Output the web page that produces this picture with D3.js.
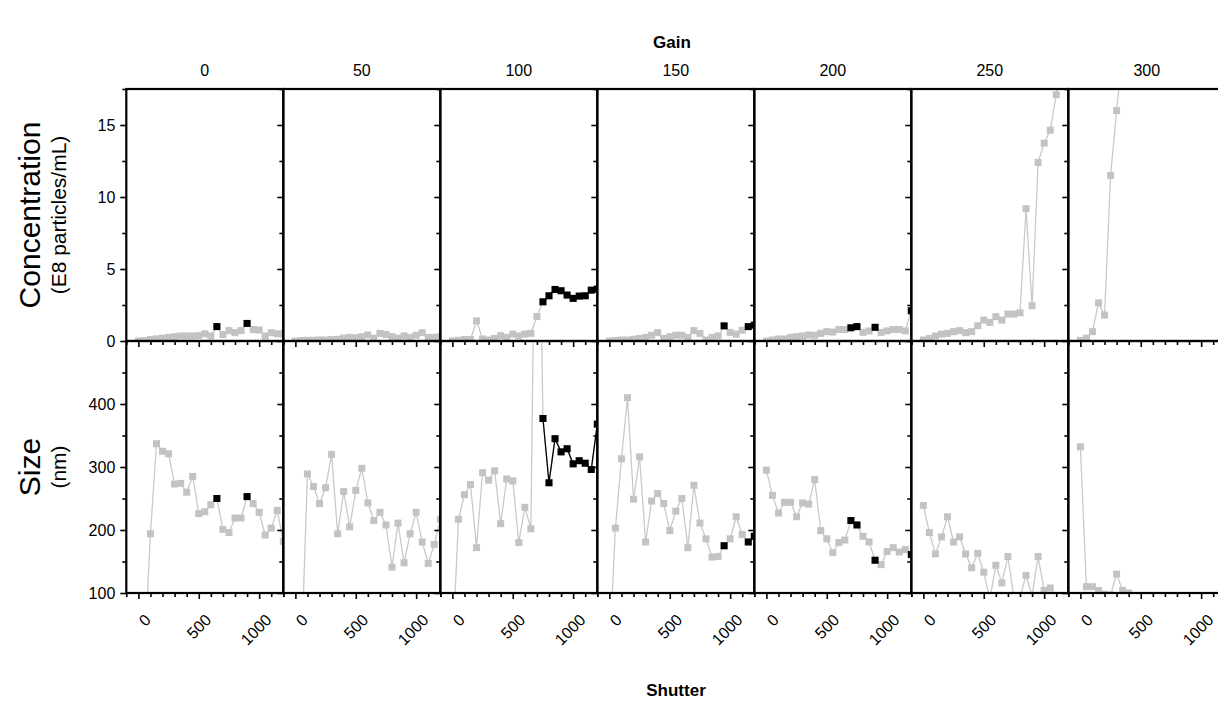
<!DOCTYPE html>
<html>
<head>
<meta charset="utf-8">
<script src="https://cdn.jsdelivr.net/npm/d3@7"></script>
<style>
  html, body { margin: 0; padding: 0; background: #ffffff; }
  svg { display: block; font-family: Arial, "Liberation Sans", sans-serif; }
</style>
</head>
<body>
<svg id="chart" width="1218" height="707"></svg>
<script>
// Shutter settings measured at every gain
const shutter = [0, 50, 100, 150, 200, 250, 300, 350, 400, 450, 500, 550, 600,
                 650, 700, 750, 800, 850, 900, 950, 1000, 1050, 1100, 1150, 1200];

const gains = [0, 50, 100, 150, 200, 250, 300];

// Concentration (E8 particles/mL), one array per gain
const conc0   = [0, 0.02, 0.1, 0.15, 0.2, 0.25, 0.3, 0.35, 0.35, 0.35, 0.38, 0.5, 0.35, 1.0, 0.45, 0.72, 0.58, 0.72, 1.22, 0.8, 0.76, 0.35, 0.58, 0.5, 0.5];
const conc50  = [0, 0.03, 0.05, 0.05, 0.07, 0.07, 0.1, 0.12, 0.2, 0.25, 0.23, 0.3, 0.42, 0.2, 0.53, 0.45, 0.3, 0.2, 0.35, 0.25, 0.4, 0.58, 0.25, 0.25, 0.3];
const conc100 = [0, 0.05, 0.1, 0.1, 1.4, 0.14, 0.07, 0.18, 0.37, 0.25, 0.48, 0.35, 0.48, 0.53, 1.7, 2.72, 3.14, 3.58, 3.49, 3.19, 2.96, 3.12, 3.14, 3.53, 3.6];
const conc150 = [0, 0.03, 0.07, 0.07, 0.12, 0.18, 0.25, 0.4, 0.58, 0.18, 0.3, 0.4, 0.4, 0.25, 0.72, 0.53, 0.07, 0.25, 0.35, 1.05, 0.6, 0.48, 0.75, 1.0, 1.1];
const conc200 = [0, 0.07, 0.14, 0.14, 0.25, 0.3, 0.35, 0.42, 0.4, 0.53, 0.65, 0.62, 0.8, 0.8, 0.92, 1.0, 0.6, 0.7, 0.95, 0.6, 0.7, 0.8, 0.8, 0.7, 2.1];
const conc250 = [0.07, 0.18, 0.35, 0.48, 0.53, 0.65, 0.72, 0.58, 0.65, 1.06, 1.45, 1.29, 1.69, 1.45, 1.87, 1.87, 1.96, 9.19, 2.45, 12.4, 13.74, 14.64, 17.1, 21, null];
const conc300 = [0.05, 0.2, 0.65, 2.65, 1.8, 11.5, 16.0, 20, null, null, null, null, null, null, null, null, null, null, null, null, null, null, null, null, null];

// Mean particle size (nm), one array per gain
const size0   = [0, 0, 194, 337, 325, 321, 273, 274, 260, 285, 226, 229, 240, 250, 201, 196, 219, 219, 253, 242, 228, 192, 203, 231, 182];
const size50  = [0, 0, 289, 269, 242, 267, 320, 194, 261, 205, 263, 298, 243, 215, 228, 208, 141, 211, 148, 194, 228, 181, 147, 177, 217];
const size100 = [0, 217, 256, 272, 172, 291, 279, 294, 210, 281, 278, 180, 236, 202, 1000, 377, 275, 345, 324, 329, 305, 310, 306, 296, 368];
const size150 = [0, 203, 313, 410, 249, 316, 181, 246, 258, 242, 199, 230, 250, 172, 271, 211, 186, 157, 158, 175, 186, 221, 193, 181, 190];
const size200 = [295, 255, 227, 244, 244, 221, 243, 241, 280, 199, 186, 164, 180, 184, 215, 208, 190, 181, 152, 145, 166, 172, 165, 169, 161];
const size250 = [239, 196, 162, 189, 221, 181, 189, 162, 140, 163, 133, 90, 144, 116, 158, 92, 93, 128, 96, 158, 104, 108, 95, 92, 90];
const size300 = [332, 110, 110, 104, 98, 97, 130, 104, 100, null, null, null, null, null, null, null, null, null, null, null, null, null, null, null, null];

// Shutter settings that fall inside the accepted range (drawn in black)
const accepted0   = [650, 900];
const accepted50  = [];
const accepted100 = [750, 800, 850, 900, 950, 1000, 1050, 1100, 1150, 1200];
const accepted150 = [950, 1150, 1200];
const accepted200 = [700, 750, 900, 1200];
const accepted250 = [];
const accepted300 = [];

// Axis ticks
const concTicksMajor = [0, 5, 10, 15];
const concTicksMinor = [2.5, 7.5, 12.5, 17.5];
const sizeTicksMajor = [100, 200, 300, 400];
const sizeTicksMinor = [150, 250, 350, 450];
const shutterTicksMajor = [0, 500, 1000];
const shutterTicksMinor = [-100, 100, 200, 300, 400, 600, 700, 800, 900, 1100, 1200];

const concSeries = [conc0, conc50, conc100, conc150, conc200, conc250, conc300];
const sizeSeries = [size0, size50, size100, size150, size200, size250, size300];
const acceptedSeries = [accepted0, accepted50, accepted100, accepted150, accepted200, accepted250, accepted300];

// ---- layout ----
const svg = d3.select("#chart");
const left0 = 126.3, panelW = 157;
const rowTop = 89, rowH = 252;
const GRAY = "#c3c3c3", GRAY_LINE = "#c9c9c9";
const MS = 7; // marker size

const yConc = d3.scaleLinear().domain([0, 17.5]).range([rowTop + rowH, rowTop]);
const ySize = d3.scaleLinear().domain([100, 500]).range([rowTop + 2 * rowH, rowTop + rowH]);

const rows = [
  { key: "conc", y: yConc, top: rowTop, series: concSeries, major: concTicksMajor, minor: concTicksMinor },
  { key: "size", y: ySize, top: rowTop + rowH, series: sizeSeries, major: sizeTicksMajor, minor: sizeTicksMinor }
];

const defs = svg.append("defs");

gains.forEach((gain, i) => {
  const x0 = left0 + i * panelW;
  const x = d3.scaleLinear().domain([-100, 1200]).range([x0, x0 + panelW]);
  const accepted = new Set(acceptedSeries[i]);

  rows.forEach((row, r) => {
    const clipId = `clip-${i}-${r}`;
    defs.append("clipPath").attr("id", clipId)
      .append("rect").attr("x", x0).attr("y", row.top).attr("width", panelW).attr("height", rowH);

    const pts = shutter.map((s, k) => ({ s, v: row.series[i][k], ok: accepted.has(s) }))
      .filter(d => d.v !== null);

    const g = svg.append("g").attr("clip-path", `url(#${clipId})`);

    const line = d3.line().x(d => x(d.s)).y(d => row.y(d.v));
    g.append("path").datum(pts)
      .attr("fill", "none").attr("stroke", GRAY_LINE).attr("stroke-width", 1.3)
      .attr("d", line);

    g.selectAll("rect.gray").data(pts).join("rect").attr("class", "gray")
      .attr("x", d => x(d.s) - MS / 2).attr("y", d => row.y(d.v) - MS / 2)
      .attr("width", MS).attr("height", MS).attr("fill", GRAY);

    const blackLine = d3.line().defined(d => d.ok).x(d => x(d.s)).y(d => row.y(d.v));
    g.append("path").datum(pts)
      .attr("fill", "none").attr("stroke", "#000").attr("stroke-width", 1.3)
      .attr("d", blackLine);

    g.selectAll("rect.black").data(pts.filter(d => d.ok)).join("rect").attr("class", "black")
      .attr("x", d => x(d.s) - MS / 2).attr("y", d => row.y(d.v) - MS / 2)
      .attr("width", MS).attr("height", MS).attr("fill", "#000");

    // left axis (ticks outward)
    const yMajor = d3.axisLeft(row.y).tickValues(row.major).tickSize(6).tickPadding(5)
      .tickFormat(i === 0 ? d3.format("d") : () => "");
    const yMinor = d3.axisLeft(row.y).tickValues(row.minor).tickSize(4).tickFormat(() => "");
    [yMajor, yMinor].forEach(ax => {
      const a = svg.append("g").attr("transform", `translate(${x0},0)`).call(ax);
      a.select(".domain").remove();
      a.selectAll("line").attr("stroke", "#000").attr("stroke-width", 1.6);
      a.selectAll("text").attr("font-size", 16).attr("fill", "#000");
    });

    // bottom axis (ticks outward)
    const yb = row.top + rowH;
    const xMajor = d3.axisBottom(x).tickValues(shutterTicksMajor).tickSize(6).tickFormat(r === 1 ? d3.format("d") : () => "");
    const xMinor = d3.axisBottom(x).tickValues(shutterTicksMinor).tickSize(4).tickFormat(() => "");
    [xMajor, xMinor].forEach(ax => {
      const a = svg.append("g").attr("transform", `translate(0,${yb})`).call(ax);
      a.select(".domain").remove();
      a.selectAll("line").attr("stroke", "#000").attr("stroke-width", 1.6);
      a.selectAll("text")
        .attr("font-size", 16).attr("fill", "#000")
        .attr("text-anchor", "end")
        .attr("dy", null).attr("y", null)
        .attr("transform", "translate(13,28) rotate(-45)");
    });

    // panel frame
    svg.append("rect").attr("x", x0).attr("y", row.top).attr("width", panelW).attr("height", rowH)
      .attr("fill", "none").attr("stroke", "#000").attr("stroke-width", 2.2);
  });

  // gain value above each column
  svg.append("text").attr("x", x0 + panelW / 2).attr("y", 76)
    .attr("text-anchor", "middle").attr("font-size", 16).text(gain);
});

// titles
svg.append("text").attr("x", 672).attr("y", 48).attr("text-anchor", "middle")
  .attr("font-size", 17).attr("font-weight", "bold").text("Gain");
svg.append("text").attr("x", 676).attr("y", 696).attr("text-anchor", "middle")
  .attr("font-size", 17).attr("font-weight", "bold").text("Shutter");

function yTitle(main, sub, cy) {
  svg.append("text").attr("transform", `translate(40,${cy}) rotate(-90)`)
    .attr("text-anchor", "middle").attr("font-size", 30).text(main);
  svg.append("text").attr("transform", `translate(66,${cy}) rotate(-90)`)
    .attr("text-anchor", "middle").attr("font-size", 21).text(sub);
}
yTitle("Concentration", "(E8 particles/mL)", rowTop + rowH / 2);
yTitle("Size", "(nm)", rowTop + rowH * 1.5);
</script>
</body>
</html>
